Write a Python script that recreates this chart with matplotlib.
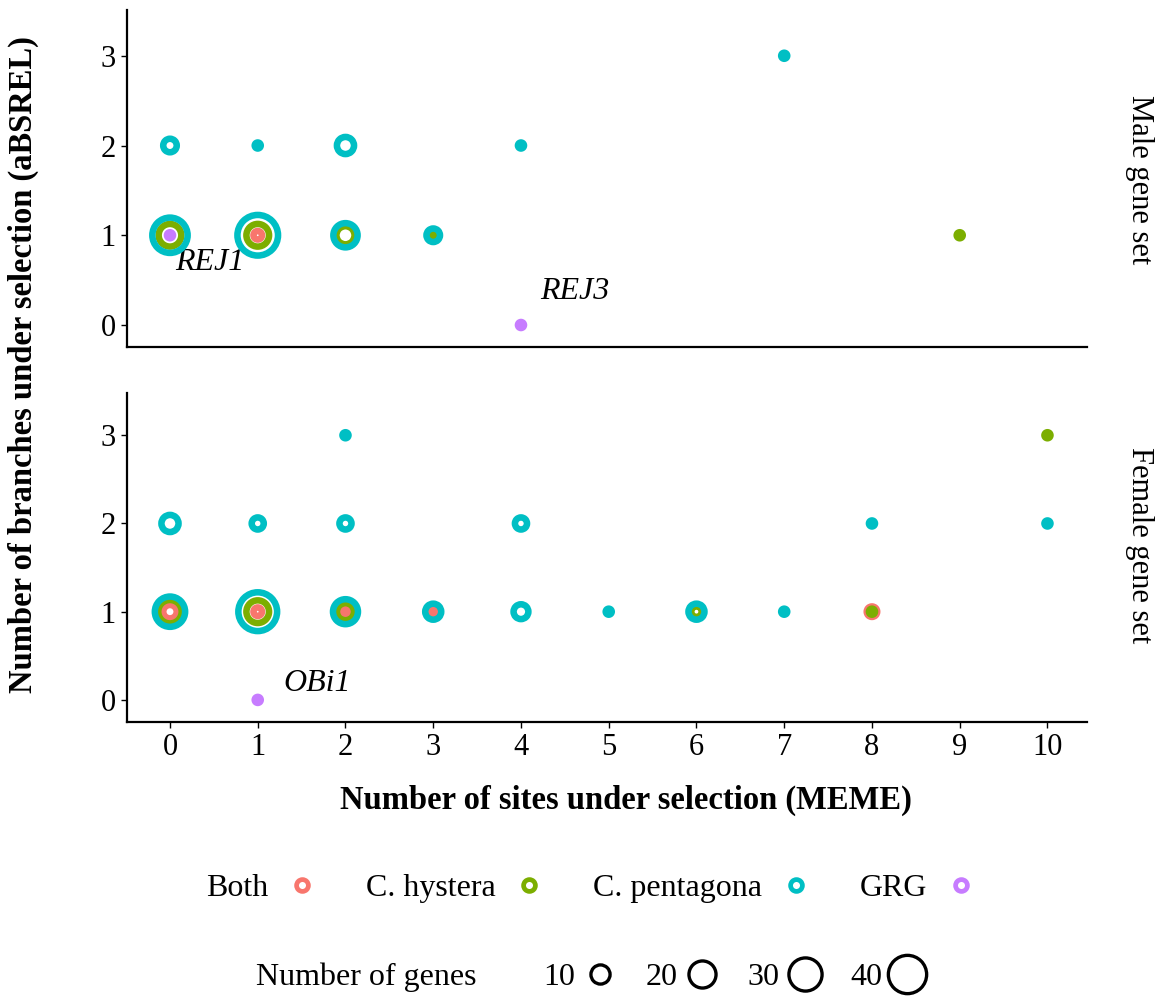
import numpy as np
import matplotlib.pyplot as plt
from matplotlib.lines import Line2D

plt.rcParams['font.family'] = ['Liberation Serif', 'DejaVu Serif']

SPECIES = ['Both', 'C. hystera', 'C. pentagona', 'GRG']
COLORS = ['#F8766D', '#7CAE00', '#00BFC4', '#C77CFF']

# Male gene set: (sites, branches, number of genes) per species
male_both_x = [1]
male_both_y = [1]
male_both_n = [2]
male_hys_x = [0, 1, 2, 3, 9]
male_hys_y = [1, 1, 1, 1, 1]
male_hys_n = [14, 14, 9, 1, 1]
male_pen_x = [0, 1, 2, 4, 7, 0, 1, 2, 3]
male_pen_y = [2, 2, 2, 2, 3, 1, 1, 1, 1]
male_pen_n = [5, 1, 8, 1, 1, 34, 45, 16, 5]
male_grg_x = [0, 4]
male_grg_y = [1, 0]
male_grg_n = [1, 1]

# Female gene set
female_both_x = [0, 1, 2, 3, 8]
female_both_y = [1, 1, 1, 1, 1]
female_both_n = [5, 2, 1, 1, 3]
female_hys_x = [0, 1, 2, 6, 8, 10]
female_hys_y = [1, 1, 1, 1, 1, 3]
female_hys_n = [15, 14, 8, 3, 1, 1]
female_pen_x = [0, 1, 2, 4, 8, 10, 2, 0, 1, 2, 3, 4, 5, 6, 7]
female_pen_y = [2, 2, 2, 2, 2, 2, 3, 1, 1, 1, 1, 1, 1, 1, 1]
female_pen_n = [8, 4, 4, 4, 1, 1, 1, 25, 41, 17, 7, 6, 1, 7, 1]
female_grg_x = [1]
female_grg_y = [0]
female_grg_n = [1]

size_breaks = [10, 20, 30, 40]

SIZE_K = 19      # marker area (pt^2) per gene
STROKE = 4.7     # ring width in points

male = [(male_both_x, male_both_y, male_both_n),
        (male_hys_x, male_hys_y, male_hys_n),
        (male_pen_x, male_pen_y, male_pen_n),
        (male_grg_x, male_grg_y, male_grg_n)]
female = [(female_both_x, female_both_y, female_both_n),
          (female_hys_x, female_hys_y, female_hys_n),
          (female_pen_x, female_pen_y, female_pen_n),
          (female_grg_x, female_grg_y, female_grg_n)]

fig = plt.figure(figsize=(11.65, 9.98), dpi=100)
ax_m = fig.add_axes([0.109, 0.6523, 0.824, 0.3377])
ax_f = fig.add_axes([0.109, 0.2766, 0.824, 0.3297])


def draw_panel(ax, groups, ylim):
    for i, (x, y, n) in enumerate(groups):
        ax.scatter(x, y, s=np.array(n) * SIZE_K, facecolors='none',
                   edgecolors=COLORS[i], linewidths=STROKE, zorder=3 + i,
                   clip_on=False)
    ax.set_xlim(-0.49, 10.45)
    ax.set_ylim(*ylim)
    ax.set_yticks([0, 1, 2, 3])
    ax.set_xticks(range(11))
    for s in ['top', 'right']:
        ax.spines[s].set_visible(False)
    for s in ['left', 'bottom']:
        ax.spines[s].set_linewidth(1.6)
    ax.tick_params(labelsize=22, length=4, width=1, pad=4)


draw_panel(ax_m, male, (-0.245, 3.51))
draw_panel(ax_f, female, (-0.25, 3.48))
ax_m.tick_params(axis='x', bottom=False, labelbottom=False)

# gene name labels
ax_m.text(0.06, 0.70, 'REJ1', fontsize=23, style='italic', va='center')
ax_m.text(4.22, 0.37, 'REJ3', fontsize=23, style='italic', va='center')
ax_f.text(1.29, 0.19, 'OBi1', fontsize=23, style='italic', va='center')

# facet strip labels
fig.text(0.978, 0.82, 'Male gene set', rotation=-90, fontsize=22,
         ha='center', va='center')
fig.text(0.978, 0.454, 'Female gene set', rotation=-90, fontsize=22,
         ha='center', va='center')

fig.text(0.02, 0.635, 'Number of branches under selection (aBSREL)',
         rotation=90, fontsize=23.5, fontweight='bold', ha='center', va='center')
fig.text(0.537, 0.198, 'Number of sites under selection (MEME)',
         fontsize=23.5, fontweight='bold', ha='center', va='center')

# species legend
sp_handles = [Line2D([], [], linestyle='none', marker='o', markersize=8.5,
                     markerfacecolor='none', markeredgecolor=c,
                     markeredgewidth=3.4) for c in COLORS]
fig.legend(sp_handles, SPECIES, ncol=4, markerfirst=False, frameon=False,
           loc='center', bbox_to_anchor=(0.505, 0.11), fontsize=23,
           handlelength=0.6, handletextpad=0.75, columnspacing=1.7)

# size legend
fig.text(0.22, 0.021, 'Number of genes', fontsize=23, va='center')
sz_handles = [Line2D([], [], linestyle='none', marker='o',
                     markersize=np.sqrt(b * SIZE_K), markerfacecolor='none',
                     markeredgecolor='black', markeredgewidth=2.4)
              for b in size_breaks]
fig.legend(sz_handles, [str(b) for b in size_breaks], ncol=4,
           markerfirst=False, frameon=False, loc='center',
           bbox_to_anchor=(0.631, 0.021), fontsize=23, handlelength=1.25,
           handletextpad=0.15, columnspacing=0.8, borderpad=0)

fig.savefig('out.png', dpi=100)
